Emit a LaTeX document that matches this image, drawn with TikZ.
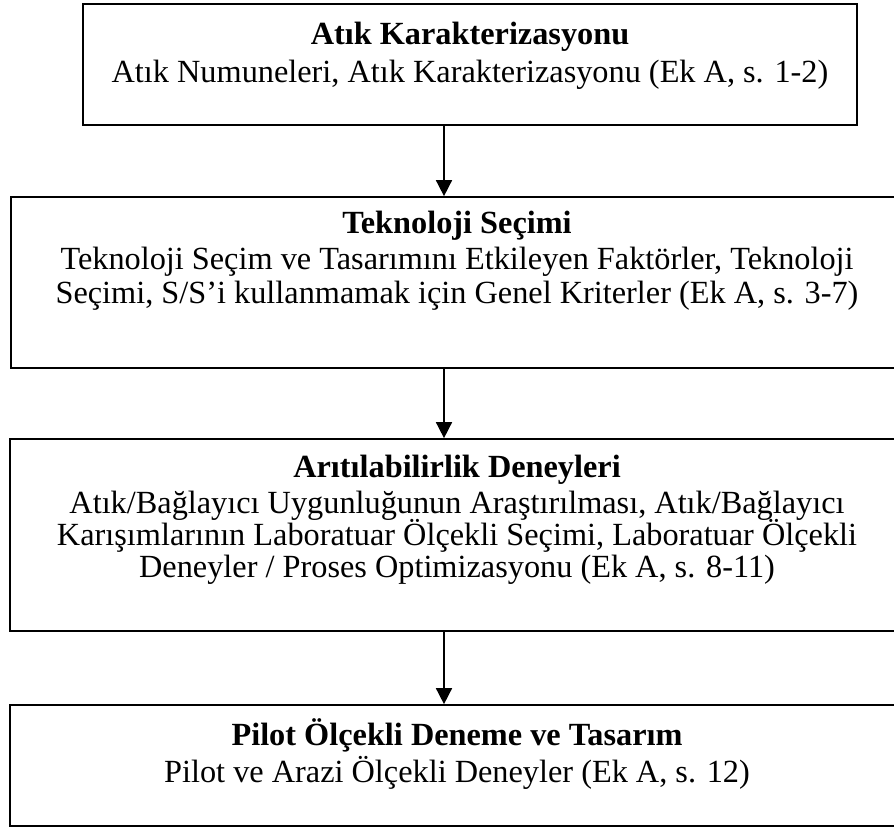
\documentclass[tikz,border=0pt]{standalone}
\usepackage{fontspec}
\setmainfont{Liberation Serif}
\usetikzlibrary{arrows.meta}
\begin{document}
\begin{tikzpicture}[x=1pt,y=-1pt,
  stagebox/.style={draw=black,line width=1.7pt,minimum width=#1,inner sep=0pt},
  line/.style={anchor=base,inner sep=0pt,font=\fontsize{32.3}{36}\selectfont},
  head/.style={line,font=\fontsize{32.3}{36}\selectfont\bfseries},
  flow/.style={line width=1.6pt,-{Triangle[width=16pt,length=16pt]}}]
\useasboundingbox (0,0) rectangle (894,828);
\begin{scope}
\clip (0,0) rectangle (894,828);
% stage frames
\node[stagebox=774pt,minimum height=121pt] (b1) at (470,64.5) {};
\node[stagebox=892pt,minimum height=171pt] (b2) at (457,282.5) {};
\node[stagebox=894pt,minimum height=192pt] (b3) at (457,535) {};
\node[stagebox=894pt,minimum height=121pt] (b4) at (457,765.5) {};
\end{scope}
% stage texts
\node[head] (t1) at (470,44) {Atık Karakterizasyonu};
\node[line] (s1) at (470,82) {Atık Numuneleri, Atık Karakterizasyonu (Ek A, s. 1-2)};
\node[head] (t2) at (457,233) {Teknoloji Seçimi};
\node[line] (s2a) at (457,269) {Teknoloji Seçim ve Tasarımını Etkileyen Faktörler, Teknoloji};
\node[line] (s2b) at (457,303) {Seçimi, S/S’i kullanmamak için Genel Kriterler (Ek A, s. 3-7)};
\node[head] (t3) at (457,477) {Arıtılabilirlik Deneyleri};
\node[line] (s3a) at (457,513) {Atık/Bağlayıcı Uygunluğunun Araştırılması, Atık/Bağlayıcı};
\node[line] (s3b) at (457,545) {Karışımlarının Laboratuar Ölçekli Seçimi, Laboratuar Ölçekli};
\node[line] (s3c) at (457,577) {Deneyler / Proses Optimizasyonu (Ek A, s. 8-11)};
\node[head] (t4) at (457,745) {Pilot Ölçekli Deneme ve Tasarım};
\node[line] (s4) at (457,782) {Pilot ve Arazi Ölçekli Deneyler (Ek A, s. 12)};
% connectors
\coordinate (ax) at (444,0);
\draw[flow] (b1.south -| ax) -- (b2.north -| ax);
\draw[flow] (b2.south -| ax) -- (b3.north -| ax);
\draw[flow] (b3.south -| ax) -- (b4.north -| ax);
\end{tikzpicture}
\end{document}
